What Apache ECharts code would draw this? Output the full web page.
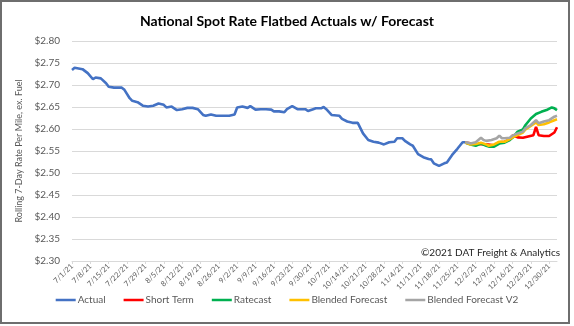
<!DOCTYPE html>
<html><head><meta charset="utf-8">
<script src="https://cdn.jsdelivr.net/npm/echarts@6/dist/echarts.min.js"></script>
<style>html,body{margin:0;padding:0;background:#fff}#c{width:574px;height:326px}</style>
</head><body><div id="c"></div>
<script>
// Daily categories 7/1/21 .. 1/2/22 (tick labels every 7 days)
var startDate = [2021, 6, 1];
var dayCount = 186;
var yTicks = [2.30, 2.35, 2.40, 2.45, 2.50, 2.55, 2.60, 2.65, 2.70, 2.75, 2.80];
var seriesNames = ['Actual', 'Short Term', 'Ratecast', 'Blended Forecast', 'Blended Forecast V2'];

// [day index from 7/1/21, rate]
var actual = [[0,2.734],[1,2.739],[4,2.736],[6,2.727],[8,2.713],[9,2.717],[11,2.715],[13,2.704],[14,2.696],[16,2.694],[19,2.694],[20,2.689],[22,2.670],[23,2.664],[25,2.661],[27,2.653],[29,2.651],[31,2.653],[33,2.658],[35,2.655],[36,2.649],[38,2.651],[40,2.643],[42,2.645],[44,2.648],[46,2.648],[48,2.645],[50,2.632],[51,2.630],[53,2.633],[55,2.630],[57,2.630],[60,2.630],[62,2.633],[63,2.649],[65,2.651],[67,2.648],[68,2.652],[70,2.644],[72,2.645],[74,2.645],[76,2.644],[77,2.640],[79,2.640],[81,2.638],[82,2.645],[84,2.652],[86,2.645],[88,2.645],[89,2.645],[90,2.641],[92,2.645],[93,2.647],[95,2.647],[96,2.650],[97,2.645],[99,2.632],[102,2.630],[103,2.623],[105,2.617],[107,2.614],[109,2.614],[110,2.602],[111,2.590],[113,2.575],[115,2.571],[117,2.569],[119,2.565],[121,2.570],[123,2.571],[124,2.579],[126,2.579],[127,2.573],[129,2.565],[130,2.562],[132,2.543],[134,2.536],[136,2.532],[137,2.531],[138,2.522],[140,2.516],[142,2.522],[143,2.524],[145,2.541],[147,2.555],[149,2.570],[150,2.570]];
var shortTerm = [[150,2.569],[154,2.566],[158,2.565],[161,2.563],[163,2.570],[165,2.571],[167,2.576],[168,2.585],[170,2.581],[172,2.580],[174,2.583],[176,2.586],[177,2.605],[178,2.586],[180,2.584],[182,2.584],[184,2.592],[185,2.604]];
var ratecast = [[150,2.569],[152,2.565],[154,2.562],[156,2.567],[158,2.562],[159,2.560],[161,2.560],[163,2.567],[165,2.569],[167,2.575],[168,2.580],[170,2.594],[172,2.599],[173,2.609],[175,2.624],[177,2.634],[179,2.639],[181,2.643],[183,2.649],[184,2.647],[185,2.643]];
var blended = [[150,2.569],[152,2.565],[154,2.566],[156,2.569],[158,2.565],[159,2.562],[161,2.565],[163,2.571],[165,2.571],[167,2.577],[168,2.581],[170,2.586],[172,2.592],[173,2.599],[175,2.607],[177,2.615],[178,2.609],[180,2.611],[182,2.615],[184,2.620],[185,2.622]];
var blendedV2 = [[150,2.570],[151,2.569],[152,2.567],[154,2.570],[155,2.575],[156,2.580],[157,2.575],[158,2.573],[160,2.575],[162,2.579],[163,2.585],[164,2.579],[165,2.579],[167,2.580],[168,2.585],[170,2.590],[172,2.594],[173,2.602],[175,2.609],[177,2.620],[178,2.613],[180,2.617],[182,2.620],[184,2.628],[185,2.630]];

var colors = ['#4472C4', '#FF0000', '#00B050', '#FFC000', '#A5A5A5'];
var allData = [actual, shortTerm, ratecast, blended, blendedV2];

var categories = [];
var d0 = new Date(startDate[0], startDate[1], startDate[2]);
for (var i = 0; i < dayCount; i++) {
  var d = new Date(d0.getTime());
  d.setDate(d0.getDate() + i);
  categories.push((d.getMonth() + 1) + '/' + d.getDate() + '/' + String(d.getFullYear()).slice(2));
}

var FONT = 'Lato, "Liberation Sans", sans-serif';
var chart = echarts.init(document.getElementById('c'), null, {renderer: 'canvas'});
chart.setOption({
  animation: false,
  color: colors,
  title: {
    text: 'National Spot Rate Flatbed Actuals w/ Forecast',
    left: 'center', top: 9,
    textStyle: {fontFamily: FONT, fontSize: 14, fontWeight: 'bold', color: '#000'}
  },
  grid: {left: 72, right: 17, top: 41, bottom: 65, containLabel: false},
  legend: {
    data: seriesNames,
    bottom: 16, left: 'center',
    icon: 'rect', itemWidth: 20, itemHeight: 2.5, itemGap: 18,
    textStyle: {fontFamily: FONT, fontSize: 10, color: '#595959', padding: [0, 0, 0, -3]}
  },
  xAxis: {
    type: 'category', data: categories, boundaryGap: false,
    axisLine: {show: true, lineStyle: {color: '#D9D9D9'}},
    axisTick: {show: true, length: 3, interval: function (i) { return i % 7 === 0; }, lineStyle: {color: '#D9D9D9'}},
    axisLabel: {
      interval: function (i) { return i % 7 === 0; },
      rotate: 45, fontSize: 7.5, color: '#595959', fontFamily: FONT, margin: 4
    },
    splitLine: {show: false}
  },
  yAxis: {
    type: 'value', min: yTicks[0], max: yTicks[yTicks.length - 1], interval: 0.05,
    name: 'Rolling 7-Day Rate Per Mile, ex. Fuel', nameLocation: 'middle', nameGap: 48,
    nameTextStyle: {fontFamily: FONT, fontSize: 9, color: '#595959'},
    axisLine: {show: false}, axisTick: {show: false},
    axisLabel: {fontFamily: FONT, fontSize: 10, color: '#595959', margin: 12,
      formatter: function (v) { return '$' + v.toFixed(2); }},
    splitLine: {lineStyle: {color: '#D9D9D9', width: 1}}
  },
  graphic: [
    {type: 'rect', shape: {x: 1, y: 1, width: 568, height: 322},
      style: {fill: 'none', stroke: '#6E6E6E', lineWidth: 2}, silent: true},
    {type: 'text', right: 14, top: 248,
      style: {text: '©2021 DAT Freight & Analytics', fontFamily: FONT, fontSize: 10, fill: '#262626'}}
  ],
  series: seriesNames.map(function (n, k) {
    return {
      name: n, type: 'line', data: allData[k], showSymbol: false, symbol: 'none',
      lineStyle: {width: 2.6, color: colors[k]}, z: 2 + k
    };
  })
});
</script></body></html>
